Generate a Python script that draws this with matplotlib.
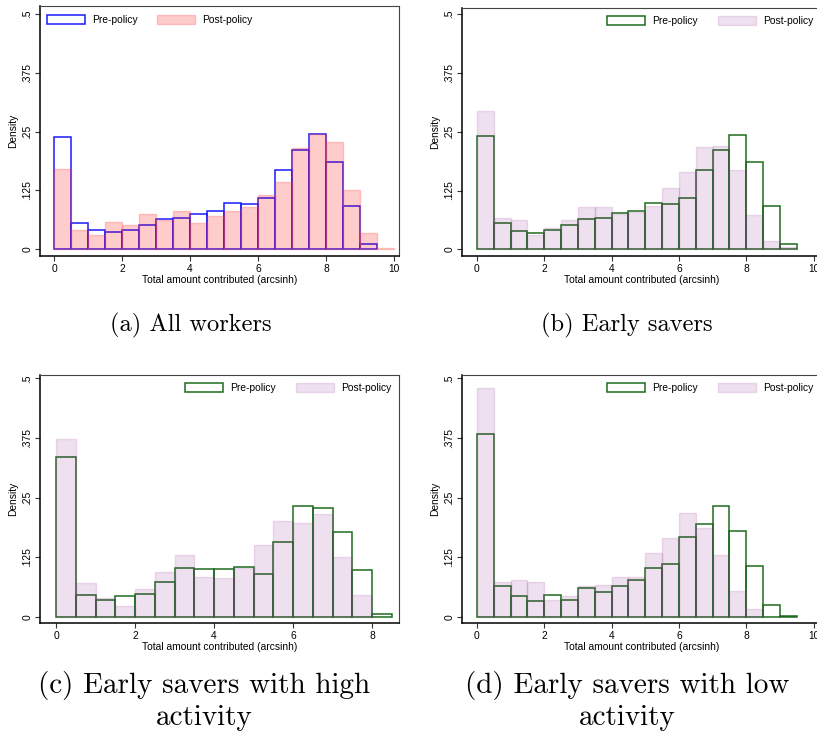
import matplotlib
matplotlib.use("Agg")  # no display

import matplotlib.pyplot as plt
from matplotlib.patches import Patch
import numpy as np

# densities per 0.5-wide bin, bins start at 0
bin_width = 0.5

pre_all = [0.239, 0.055, 0.040, 0.036, 0.042, 0.051, 0.064, 0.066, 0.076, 0.081,
           0.098, 0.096, 0.110, 0.169, 0.212, 0.244, 0.186, 0.093, 0.011]
post_all = [0.170, 0.042, 0.030, 0.057, 0.051, 0.074, 0.062, 0.082, 0.056, 0.070,
            0.081, 0.089, 0.115, 0.142, 0.215, 0.246, 0.229, 0.127, 0.034, 0.003]

pre_early = [0.240, 0.055, 0.040, 0.035, 0.042, 0.051, 0.064, 0.066, 0.077, 0.081,
             0.098, 0.096, 0.110, 0.169, 0.212, 0.244, 0.186, 0.093, 0.011]
post_early = [0.295, 0.066, 0.062, 0.030, 0.045, 0.062, 0.091, 0.089, 0.076, 0.079,
              0.093, 0.130, 0.164, 0.217, 0.220, 0.169, 0.072, 0.017, 0.004]

pre_high = [0.335, 0.045, 0.036, 0.043, 0.048, 0.074, 0.102, 0.101, 0.101, 0.104,
            0.090, 0.158, 0.232, 0.229, 0.178, 0.099, 0.006]
post_high = [0.372, 0.072, 0.039, 0.023, 0.059, 0.094, 0.129, 0.084, 0.082, 0.103,
             0.150, 0.201, 0.197, 0.215, 0.125, 0.046]

pre_low = [0.384, 0.065, 0.044, 0.033, 0.045, 0.036, 0.060, 0.052, 0.065, 0.078,
           0.102, 0.110, 0.167, 0.194, 0.233, 0.179, 0.106, 0.024, 0.002]
post_low = [0.480, 0.074, 0.078, 0.074, 0.035, 0.043, 0.065, 0.067, 0.084, 0.084,
            0.134, 0.165, 0.218, 0.187, 0.129, 0.054, 0.016]

legend_labels = ["Pre-policy", "Post-policy"]
captions = ["(a) All workers", "(b) Early savers",
            "(c) Early savers with high\nactivity", "(d) Early savers with low\nactivity"]
x_label = "Total amount contributed (arcsinh)"
y_label = "Density"
y_ticks = [0, 0.125, 0.25, 0.375, 0.5]
y_tick_labels = ["0", ".125", ".25", ".375", ".5"]

W, H = 817, 739
fig = plt.figure(figsize=(W / 100, H / 100), dpi=100)
plt.rcParams["font.family"] = ["Liberation Sans", "DejaVu Sans"]

small = 7.4


def add_px_axes(left, top, right, bottom):
    return fig.add_axes([left / W, 1 - bottom / H, (right - left) / W, (bottom - top) / H])


blue = "#1a1aff"
green = "#1e6b1e"
pink_fill = (1.0, 0.0, 0.0, 0.2)
pink_edge = (1.0, 0.3, 0.3, 0.3)
lav_fill = (0.5, 0.0, 0.5, 0.12)
lav_edge = (0.6, 0.3, 0.6, 0.18)

panels = [
    # pre, post, box (l, t, r, b), xlim, ylim, xticks, pre colour, post fill/edge, legend side
    (pre_all, post_all, (40, 6, 399, 256), (-0.42, 10.15), (-0.0142, 0.517),
     range(0, 11, 2), blue, pink_fill, pink_edge, "left"),
    (pre_early, post_early, (462, 8, 821, 256), (-0.445, 10.22), (-0.0142, 0.513),
     range(0, 11, 2), green, lav_fill, lav_edge, "right"),
    (pre_high, post_high, (40, 375, 399, 623), (-0.405, 8.68), (-0.0128, 0.507),
     range(0, 9, 2), green, lav_fill, lav_edge, "right"),
    (pre_low, post_low, (462, 375, 821, 623), (-0.445, 10.22), (-0.0128, 0.507),
     range(0, 11, 2), green, lav_fill, lav_edge, "right"),
]

for pre, post, box, xlim, ylim, xticks, pre_col, post_fill, post_edge, side in panels:
    ax = add_px_axes(*box)
    pre_x = np.arange(len(pre)) * bin_width
    post_x = np.arange(len(post)) * bin_width
    ax.bar(pre_x, pre, width=bin_width, align="edge", facecolor="none",
           edgecolor=pre_col, linewidth=1.1)
    ax.bar(post_x, post, width=bin_width, align="edge", facecolor=post_fill,
           edgecolor=post_edge, linewidth=1.0)
    ax.set_xlim(*xlim)
    ax.set_ylim(*ylim)
    ax.set_xticks(list(xticks))
    ax.set_yticks(y_ticks)
    ax.set_yticklabels(y_tick_labels, rotation=90, va="center")
    ax.tick_params(labelsize=small, length=3.5, width=0.8, pad=2, color="#333333")
    ax.set_xlabel(x_label, fontsize=small, labelpad=1)
    ax.set_ylabel(y_label, fontsize=small, labelpad=3)
    for s in ["left", "bottom"]:
        ax.spines[s].set_linewidth(1.1)
        ax.spines[s].set_color("black")
    for s in ["top", "right"]:
        ax.spines[s].set_linewidth(0.8)
        ax.spines[s].set_color("#444444")

    handles = [Patch(facecolor="white", edgecolor=pre_col, linewidth=1.1),
               Patch(facecolor=post_fill, edgecolor=post_edge, linewidth=1.0)]
    bw = box[2] - box[0]
    bh = box[3] - box[1]
    if side == "left":
        anchor, loc = (7 / bw, 1 - 9 / bh), "upper left"
    else:
        anchor, loc = (1 - 8 / bw, 1 - 8 / bh), "upper right"
    ax.legend(handles, legend_labels, loc=loc, bbox_to_anchor=anchor, ncol=2,
              frameon=False, fontsize=small, handlelength=3.7, handleheight=0.95,
              handletextpad=0.7, columnspacing=1.9, borderpad=0, borderaxespad=0)

# sub-figure captions (second row is set in a larger size in the reference)
cap_pos = [(191, 325), (627, 325), (204, 701), (627, 701)]
cap_size = [17.6, 17.6, 21, 21]
for text, (cx, cy), fs in zip(captions, cap_pos, cap_size):
    fig.text(cx / W, 1 - cy / H, text, ha="center", va="center", ma="center",
             fontsize=fs, family="cmr10", linespacing=1.19)

fig.savefig("out.png", dpi=100)
